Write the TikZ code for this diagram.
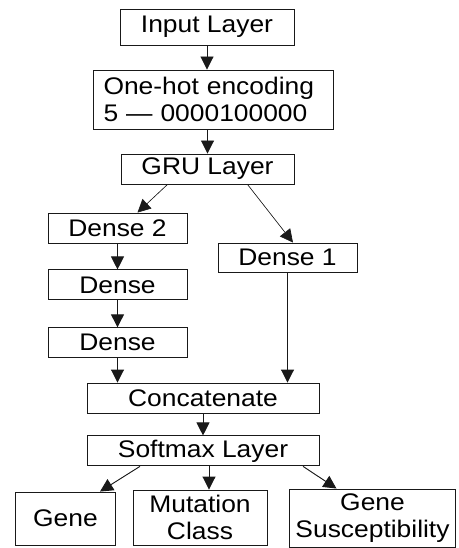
\documentclass[tikz,border=0pt]{standalone}
\usepackage{fontspec}
\setmainfont{Liberation Sans}[FakeStretch=1.1]
\usetikzlibrary{arrows.meta, calc, positioning}

\tikzset{
    layer/.style={draw=black!90, line width=0.9pt, inner sep=0pt, align=center,
        minimum width=139pt, minimum height=30pt},
    flow/.style={-{Triangle[length=13pt, width=13pt]}, line width=0.9pt, draw=black!90, fill=black!90}
}

\begin{document}
\begin{tikzpicture}[x=1pt, y=1pt, font=\fontsize{24}{27}\selectfont]
    \useasboundingbox (0,0) rectangle (458,-548);

    % main column
    \node[layer, minimum width=174pt, minimum height=36pt] (input) at (207,-27) {Input Layer};
    \node[layer, minimum width=240pt, minimum height=59pt, text width=219pt, align=left] (onehot) at (213,-99.5) {One-hot encoding\\5 — 0000100000};
    \node[layer, minimum width=173pt] (gru) at (207.5,-169) {GRU Layer};

    % left branch
    \node[layer] (dense2) at (117.5,-228) {Dense 2};
    \node[layer, below=26pt of dense2] (densea) {Dense};
    \node[layer, below=27pt of densea] (denseb) {Dense};

    % right branch
    \node[layer, minimum height=29pt] (dense1) at (287.5,-257.5) {Dense 1};

    % merge
    \node[layer, minimum width=232pt] (concat) at (203,-398) {Concatenate};
    \node[layer, minimum width=232pt, below=22pt of concat] (softmax) {Softmax Layer};

    % outputs
    \node[layer, minimum width=100pt, minimum height=53pt] (gene) at (65.5,-518.5) {Gene};
    \node[layer, minimum width=134pt, minimum height=55pt] (mutation) at (200,-517.5) {Mutation\\Class};
    \node[layer, minimum width=166pt, minimum height=58pt] (suscept) at (372.5,-518) {Gene\\Susceptibility};

    % Arrows
    \draw[flow] (input.south) -- (input.south |- onehot.north);
    \draw[flow] (gru.north |- onehot.south) -- (gru.north);
    \draw[flow, line width=0.6pt] ([xshift=-40pt]gru.south) -- ([xshift=20pt]dense2.north);
    \draw[flow, line width=0.6pt] ([xshift=40pt]gru.south) -- ([xshift=5.5pt]dense1.north);
    \draw[flow] (dense2) -- (densea);
    \draw[flow] (densea) -- (denseb);
    \draw[flow] (denseb.south) -- (denseb.south |- concat.north);
    \draw[flow] (dense1.south) -- (dense1.south |- concat.north);
    \draw[flow] (concat) -- (softmax);
    \draw[flow] ([xshift=-63pt]softmax.south) -- ([xshift=34.5pt]gene.north);
    \draw[flow] ([xshift=6pt]softmax.south) -- ([xshift=6pt]softmax.south |- mutation.north);
    \draw[flow] ([xshift=100pt]softmax.south) -- ([xshift=-36pt]suscept.north);
\end{tikzpicture}
\end{document}
